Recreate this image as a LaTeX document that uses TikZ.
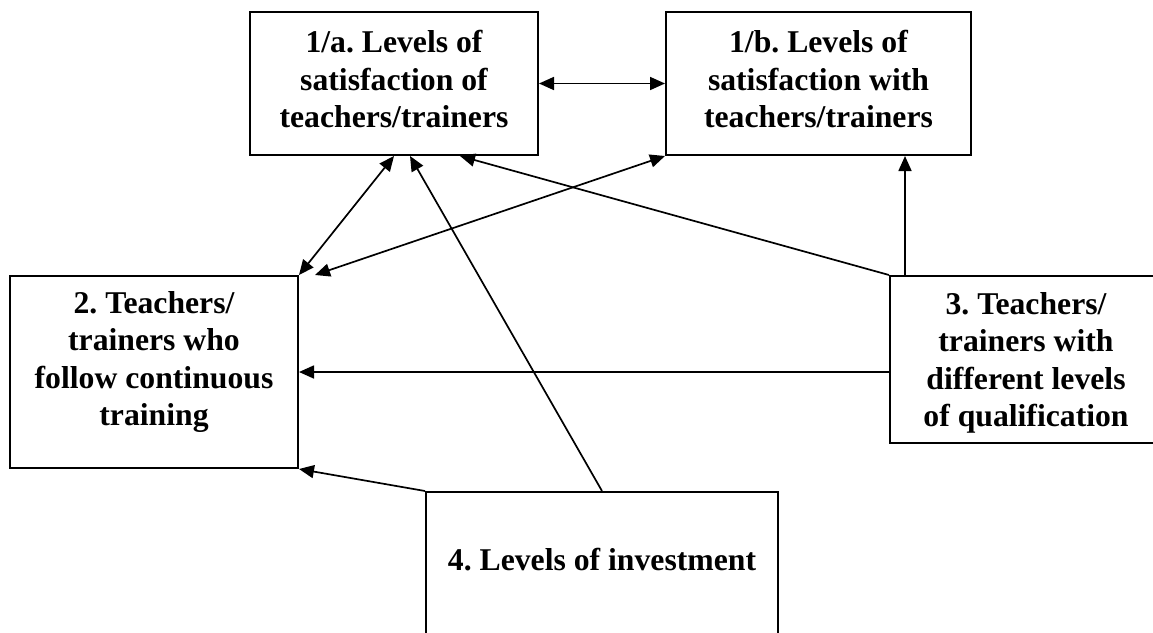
\documentclass[tikz,border=0pt]{standalone}
\usepackage{fontspec}
\setmainfont{Liberation Serif}
\usetikzlibrary{arrows.meta}
\begin{document}
\frenchspacing
\begin{tikzpicture}[x=1pt,y=-1pt,
  boxnode/.style={draw=black, line width=2pt, inner sep=0pt, fill=none},
  label/.style={anchor=north, align=center, inner sep=0pt,
    font=\bfseries\fontsize{31.7}{37.5}\selectfont},
  arr/.style={line width=1.7pt, -{Triangle[length=15pt,width=13pt]}},
  biarr/.style={line width=1.7pt, {Triangle[length=15pt,width=13pt]}-{Triangle[length=15pt,width=13pt]}}]
\useasboundingbox (0,0) rectangle (1153,632);
\clip (0,0) rectangle (1153,632);
% boxes
\node[boxnode, minimum width=288pt, minimum height=143pt] (n1a) at (394,83.5) {};
\node[boxnode, minimum width=305pt, minimum height=143pt] (n1b) at (818.5,83.5) {};
\node[boxnode, minimum width=288pt, minimum height=192pt] (n2) at (154,372) {};
\node[boxnode, minimum width=272pt, minimum height=167pt] (n3) at (1026,359.5) {};
\node[boxnode, minimum width=352pt, minimum height=170pt] (n4) at (602,577) {};
% texts
\node[label] (t1a) at (394,30) {1/a. Levels of\\satisfaction of\\teachers/trainers};
\node[label] (t1b) at (818.5,30) {1/b. Levels of\\satisfaction with\\teachers/trainers};
\node[label] (t2) at (154,291) {2. Teachers/\\trainers who\\follow continuous\\training};
\node[label] (t3) at (1026,292) {3. Teachers/\\trainers with\\different levels\\of qualification};
\node[label] (t4) at (602,548) {4. Levels of investment};
% helper coordinates
\coordinate (p2) at ([xshift=16pt]n2.north east);
\coordinate (a1) at ([xshift=16pt]n1a.south);
\coordinate (a2) at ([xshift=66pt]n1a.south);
\coordinate (c3t) at ([xshift=16pt]n3.north west);
% connectors
\draw[biarr] (n1a.east) -- (n1b.west);
\draw[biarr] (n1a.south) -- (n2.north east);
\draw[biarr] (n1b.south west) -- (p2);
\draw[arr] (n4.north) -- (a1);
\draw[arr] (n3.north west) -- (a2);
\draw[arr] (c3t) -- (c3t |- n1b.south);
\draw[arr] (n2.east -| n3.west) -- (n2.east);
\draw[arr] (n4.north west) -- (n2.south east);
\end{tikzpicture}
\end{document}
